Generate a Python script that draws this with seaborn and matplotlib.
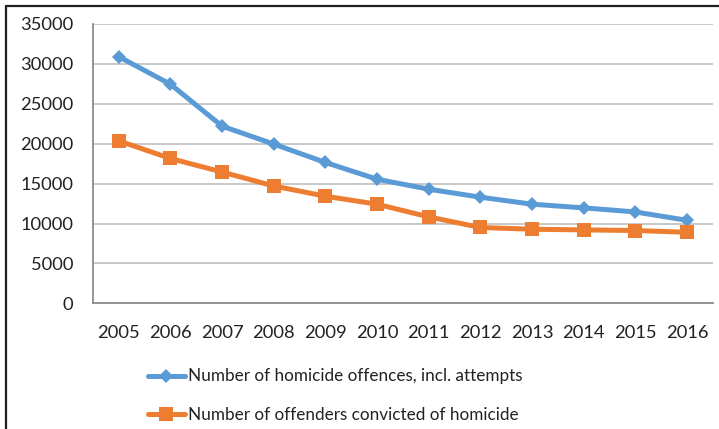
import matplotlib
matplotlib.use("Agg")
import matplotlib.pyplot as plt
import seaborn as sns
import pandas as pd
import numpy as np
from matplotlib.lines import Line2D

years = ["2005", "2006", "2007", "2008", "2009", "2010", "2011", "2012", "2013", "2014", "2015", "2016"]
offences = [30900, 27450, 22200, 19950, 17650, 15550, 14300, 13300, 12420, 11960, 11450, 10400]
convicted = [20350, 18150, 16450, 14700, 13420, 12420, 10830, 9500, 9280, 9200, 9120, 8900]
label_off = "Number of homicide offences, incl. attempts"
label_conv = "Number of offenders convicted of homicide"
yticks = [0, 5000, 10000, 15000, 20000, 25000, 30000, 35000]

sns.set_theme(style="white")
plt.rcParams['font.family'] = ['Lato', 'DejaVu Sans']

df = pd.DataFrame({
    "year": years * 2,
    "value": offences + convicted,
    "series": [label_off] * len(years) + [label_conv] * len(years),
})

fig = plt.figure(figsize=(7.19, 4.29), dpi=100)
ax = fig.add_axes([93/719, 1 - 303.3/429, (712.7-93)/719, (303.3-24)/429])

blue = "#5B9BD5"
orange = "#ED7D31"
sns.lineplot(data=df[df.series == label_off], x="year", y="value", ax=ax,
             color=blue, lw=3.6, marker="D", markersize=7.5, markeredgewidth=0,
             label=label_off, legend=False)
sns.lineplot(data=df[df.series == label_conv], x="year", y="value", ax=ax,
             color=orange, lw=3.6, marker="s", markersize=10.5, markeredgewidth=0,
             label=label_conv, legend=False)

ax.set_xlim(-0.5, len(years) - 0.5)
ax.set_ylim(0, 35000)
ax.set_yticks(yticks)
ax.set_yticklabels([str(v) for v in yticks])
ax.grid(axis="y", color="#BFBFBF", lw=1.2)
ax.set_axisbelow(True)
ax.set_xlabel("")
ax.set_ylabel("")

for s in ["top", "right"]:
    ax.spines[s].set_visible(False)
for s in ["left", "bottom"]:
    ax.spines[s].set_color("#8C8C8C")
    ax.spines[s].set_linewidth(1.3)

ax.set_xticks(np.arange(len(years)))
ax.set_xticks(np.arange(-0.5, len(years)), minor=True)
ax.tick_params(axis="x", which="major", length=0, pad=15.5, labelsize=13.2, labelcolor="#222222")
ax.tick_params(axis="x", which="minor", length=4, width=1.2, color="#8C8C8C", direction="out")
ax.tick_params(axis="y", which="major", length=4, width=1.2, color="#8C8C8C", direction="out",
               pad=10, labelsize=13.2, labelcolor="#222222")

handles = [
    Line2D([], [], color=blue, lw=3.6, marker="D", markersize=7.5, markeredgewidth=0),
    Line2D([], [], color=orange, lw=3.6, marker="s", markersize=10.5, markeredgewidth=0),
]
leg = fig.legend(handles, [label_off, label_conv], loc="upper left",
                 bbox_to_anchor=(148/719, 1 - 368.5/429), frameon=False,
                 fontsize=12.3, handlelength=2.16, handletextpad=0.18,
                 labelspacing=1.3, borderpad=0, borderaxespad=0)
for t in leg.get_texts():
    t.set_color("#222222")

# chart border (top and left edges visible)
fig.add_artist(Line2D([6/719, 1], [1 - 6/429, 1 - 6/429], transform=fig.transFigure, color="#222222", lw=1.6))
fig.add_artist(Line2D([6/719, 6/719], [0, 1 - 6/429], transform=fig.transFigure, color="#222222", lw=1.6))

fig.savefig("out.png", dpi=100)
